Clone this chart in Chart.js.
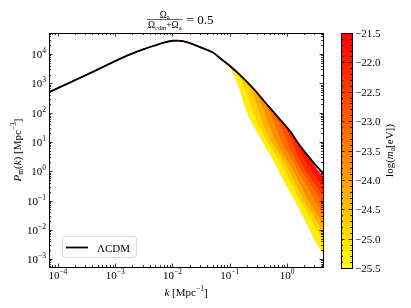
<!DOCTYPE html>
<html><head><meta charset="utf-8">
<script src="https://cdn.jsdelivr.net/npm/chart.js@4.4.1/dist/chart.umd.min.js"></script>
<style>html,body{margin:0;padding:0;background:#fff}</style>
</head><body>
<canvas id="pk" width="411" height="308"></canvas>
<script>
// log10 k [Mpc^-1] and log10 P(k)
var logK = [-4.15,-3.9,-3.6,-3.3,-3.0,-2.75,-2.5,-2.3,-2.15,-2.0,-1.9,-1.8,-1.65,-1.5,-1.3,
            -1.15,-1.0,-0.85,-0.7,-0.55,-0.4,-0.25,-0.1,0.05,0.2,0.35,0.5,0.63];
var lcdmLogP = [2.70,2.93,3.20,3.48,3.76,3.98,4.17,4.30,4.39,4.455,4.46,4.43,4.34,4.22,4.06,
                3.83,3.60,3.34,3.05,2.74,2.39,2.05,1.71,1.37,0.94,0.56,0.20,-0.07];
// axion models agree with LCDM up to index 15 (k ~ 0.07)
var tailStart = 15;
var axionLogMass = [-25.5,-25.0,-24.5,-24.0,-23.5,-23.0,-22.5,-22.0,-21.5];
var axionTailLogP = [
  [3.83,3.56,2.93,2.02,1.43,0.92,0.42,-0.17,-0.70,-1.24,-1.82,-2.41,-2.80],
  [3.83,3.58,3.28,2.68,1.82,1.21,0.73,0.25,-0.32,-0.92,-1.40,-1.93,-2.41],
  [3.83,3.58,3.32,3.02,2.40,1.52,0.95,0.48,0.00,-0.64,-1.18,-1.63,-2.07],
  [3.83,3.58,3.32,3.05,2.71,2.07,1.25,0.69,0.22,-0.33,-0.91,-1.41,-1.77],
  [3.83,3.58,3.32,3.05,2.74,2.36,1.78,1.02,0.50,-0.04,-0.53,-1.05,-1.45],
  [3.83,3.58,3.32,3.05,2.74,2.39,2.03,1.48,0.78,0.19,-0.28,-0.73,-1.14],
  [3.83,3.58,3.32,3.05,2.74,2.39,2.05,1.69,1.18,0.45,-0.06,-0.49,-0.84],
  [3.83,3.58,3.32,3.05,2.74,2.39,2.05,1.71,1.36,0.81,0.24,-0.21,-0.53],
  [3.83,3.58,3.32,3.05,2.74,2.39,2.05,1.71,1.37,0.94,0.52,0.10,-0.20]
];
var xTickPowers = [-4,-3,-2,-1,0];
var yTickPowers = [-3,-2,-1,0,1,2,3,4];
var cbarTicks = [-21.5,-22.0,-22.5,-23.0,-23.5,-24.0,-24.5,-25.0,-25.5];
var cbarMin = -25.5, cbarMax = -21.5;

var SERIF = '"Liberation Serif", "DejaVu Serif", serif';

function cmap(m) {
  var t = (m - cbarMin) / (cbarMax - cbarMin);
  return 'rgb(255,' + Math.round(255 * (1 - t)) + ',0)';
}
function toPoints(logs) {
  return logs.map(function (v, i) { return {x: Math.pow(10, logK[i]), y: Math.pow(10, v)}; });
}

var datasets = [];
axionTailLogP.forEach(function (tail, j) {
  var m = axionLogMass[j];
  datasets.push({
    data: toPoints(lcdmLogP.slice(0, tailStart).concat(tail)),
    borderColor: cmap(m),
    borderWidth: 1,
    backgroundColor: j > 0 ? cmap(m - 0.25) : 'transparent',
    fill: j > 0 ? '-1' : false,
    order: 20 - j
  });
});
datasets.push({
  label: 'ΛCDM',
  data: toPoints(lcdmLogP),
  borderColor: '#000',
  borderWidth: 1.8,
  fill: false,
  order: 0
});

function richWidth(ctx, parts) {
  var w = 0;
  parts.forEach(function (p) { ctx.font = p.f; w += ctx.measureText(p.t).width; });
  return w;
}
function drawRich(ctx, parts, x, y) {
  parts.forEach(function (p) {
    ctx.font = p.f;
    ctx.fillText(p.t, x, y + (p.dy || 0));
    x += ctx.measureText(p.t).width;
  });
}
function powParts(n) {
  return [{t: '10', f: '11px ' + SERIF},
          {t: n < 0 ? '\u2212' + (-n) : '' + n, f: '7.5px ' + SERIF, dy: -5}];
}

var decor = {
  id: 'decor',
  afterDraw: function (chart) {
    var ctx = chart.ctx, a = chart.chartArea;
    var xs = chart.scales.x, ys = chart.scales.y;
    ctx.save();
    ctx.fillStyle = '#000';
    ctx.strokeStyle = '#000';
    ctx.textBaseline = 'alphabetic';

    // frame
    ctx.lineWidth = 1;
    ctx.strokeRect(a.left + 0.5, a.top + 0.5, a.right - a.left, a.bottom - a.top);

    // ticks, inward on all sides
    ctx.lineWidth = 0.8;
    function tickX(px, len) {
      ctx.beginPath();
      ctx.moveTo(px, a.bottom); ctx.lineTo(px, a.bottom - len);
      ctx.moveTo(px, a.top); ctx.lineTo(px, a.top + len);
      ctx.stroke();
    }
    function tickY(py, len) {
      ctx.beginPath();
      ctx.moveTo(a.left, py); ctx.lineTo(a.left + len, py);
      ctx.moveTo(a.right, py); ctx.lineTo(a.right - len, py);
      ctx.stroke();
    }
    for (var n = -5; n <= 1; n++) {
      for (var m = 1; m <= 9; m++) {
        var v = m * Math.pow(10, n);
        if (v >= xs.min && v <= xs.max) tickX(Math.round(xs.getPixelForValue(v)) + 0.5, m === 1 ? 3.5 : 2);
      }
    }
    for (n = -4; n <= 5; n++) {
      for (m = 1; m <= 9; m++) {
        v = m * Math.pow(10, n);
        if (v >= ys.min && v <= ys.max) tickY(Math.round(ys.getPixelForValue(v)) + 0.5, m === 1 ? 3.5 : 2);
      }
    }

    // tick labels
    xTickPowers.forEach(function (p) {
      var parts = powParts(p), w = richWidth(ctx, parts);
      drawRich(ctx, parts, xs.getPixelForValue(Math.pow(10, p)) - w / 2, a.bottom + 12);
    });
    yTickPowers.forEach(function (p) {
      var parts = powParts(p), w = richWidth(ctx, parts);
      drawRich(ctx, parts, a.left - 3 - w, ys.getPixelForValue(Math.pow(10, p)) + 4);
    });

    // axis labels
    var xl = [{t: 'k', f: 'italic 11px ' + SERIF}, {t: ' [Mpc', f: '11px ' + SERIF},
              {t: '\u22121', f: '7.5px ' + SERIF, dy: -5}, {t: ']', f: '11px ' + SERIF}];
    drawRich(ctx, xl, (a.left + a.right) / 2 - richWidth(ctx, xl) / 2, 296);

    var yl = [{t: 'P', f: 'italic 11px ' + SERIF}, {t: 'm', f: '7.5px ' + SERIF, dy: 2},
              {t: '(', f: '11px ' + SERIF}, {t: 'k', f: 'italic 11px ' + SERIF},
              {t: ') [Mpc', f: '11px ' + SERIF}, {t: '\u22123', f: '7.5px ' + SERIF, dy: -5},
              {t: ']', f: '11px ' + SERIF}];
    ctx.save();
    ctx.translate(21, (a.top + a.bottom) / 2);
    ctx.rotate(-Math.PI / 2);
    drawRich(ctx, yl, -richWidth(ctx, yl) / 2, 0);
    ctx.restore();

    // title: fraction = 0.5
    var num = [{t: '\u03A9', f: '9.5px ' + SERIF}, {t: 'a', f: '6.5px ' + SERIF, dy: 1.5}];
    var den = [{t: '\u03A9', f: '9.5px ' + SERIF}, {t: 'cdm', f: '6.5px ' + SERIF, dy: 1.5},
               {t: '+\u03A9', f: '9.5px ' + SERIF}, {t: 'a', f: '6.5px ' + SERIF, dy: 1.5}];
    var dw = richWidth(ctx, den), nw = richWidth(ctx, num);
    var fx = 148, fy = 19.5;
    drawRich(ctx, num, fx + dw / 2 - nw / 2, fy - 2);
    drawRich(ctx, den, fx, fy + 8.5);
    ctx.lineWidth = 0.6;
    ctx.beginPath(); ctx.moveTo(fx - 1, fy); ctx.lineTo(fx + dw + 1, fy); ctx.stroke();
    ctx.font = '13px ' + SERIF;
    ctx.fillText('= 0.5', fx + dw + 5, fy + 4.5);

    // legend
    var lx = 62.5, ly = 236.5, lw = 74, lh = 21, r = 2.5;
    ctx.beginPath();
    ctx.moveTo(lx + r, ly); ctx.lineTo(lx + lw - r, ly); ctx.arcTo(lx + lw, ly, lx + lw, ly + r, r);
    ctx.lineTo(lx + lw, ly + lh - r); ctx.arcTo(lx + lw, ly + lh, lx + lw - r, ly + lh, r);
    ctx.lineTo(lx + r, ly + lh); ctx.arcTo(lx, ly + lh, lx, ly + lh - r, r);
    ctx.lineTo(lx, ly + r); ctx.arcTo(lx, ly, lx + r, ly, r);
    ctx.closePath();
    ctx.fillStyle = 'rgba(255,255,255,0.85)'; ctx.fill();
    ctx.strokeStyle = '#d0d0d0'; ctx.lineWidth = 0.8; ctx.stroke();
    ctx.strokeStyle = '#000'; ctx.lineWidth = 1.8;
    ctx.beginPath(); ctx.moveTo(66, 247.5); ctx.lineTo(88, 247.5); ctx.stroke();
    ctx.fillStyle = '#000';
    ctx.font = '11px ' + SERIF;
    ctx.fillText(datasets[datasets.length - 1].label, 97, 251.5);

    // colorbar
    var cl = 341, cr = 352, ct = a.top, cb = 268;
    var g = ctx.createLinearGradient(0, cb, 0, ct);
    g.addColorStop(0, cmap(cbarMin));
    g.addColorStop(1, cmap(cbarMax));
    ctx.fillStyle = g;
    ctx.fillRect(cl, ct, cr - cl, cb - ct);
    ctx.strokeStyle = '#000'; ctx.lineWidth = 1;
    ctx.strokeRect(cl + 0.5, ct + 0.5, cr - cl, cb - ct);
    function cbY(val) { return cb - (val - cbarMin) / (cbarMax - cbarMin) * (cb - ct); }
    ctx.lineWidth = 0.8;
    for (var i = 0; i <= 40; i++) {
      var val = cbarMin + i * 0.1;
      var py = Math.round(cbY(val)) + 0.5, len = (i % 5 === 0) ? 3.5 : 2;
      ctx.beginPath();
      ctx.moveTo(cl, py); ctx.lineTo(cl + len, py);
      ctx.moveTo(cr, py); ctx.lineTo(cr - len, py);
      ctx.stroke();
    }
    ctx.fillStyle = '#000';
    ctx.font = '11px ' + SERIF;
    cbarTicks.forEach(function (t) {
      ctx.fillText('\u2212' + (-t).toFixed(1), cr + 3, cbY(t) + 4);
    });
    var cbl = [{t: 'log', f: '11px ' + SERIF}, {t: '(', f: '11px ' + SERIF},
               {t: 'm', f: 'italic 11px ' + SERIF}, {t: 'a', f: '7.5px ' + SERIF, dy: 2},
               {t: '[eV])', f: '11px ' + SERIF}];
    ctx.save();
    ctx.translate(393, (ct + cb) / 2);
    ctx.rotate(-Math.PI / 2);
    drawRich(ctx, cbl, -richWidth(ctx, cbl) / 2, 0);
    ctx.restore();

    ctx.restore();
  }
};

new Chart(document.getElementById('pk'), {
  type: 'line',
  data: {datasets: datasets},
  options: {
    responsive: false,
    animation: false,
    devicePixelRatio: 1,
    layout: {padding: {left: 49, right: 88, top: 33, bottom: 41}},
    elements: {point: {radius: 0}, line: {cubicInterpolationMode: 'monotone'}},
    scales: {
      x: {type: 'logarithmic', min: 7.18e-5, max: 4.23,
          ticks: {display: false}, grid: {display: false}, border: {display: false},
          afterFit: function (s) { s.height = 0; }},
      y: {type: 'logarithmic', min: 5.37e-4, max: 5.25e4,
          ticks: {display: false}, grid: {display: false}, border: {display: false},
          afterFit: function (s) { s.width = 0; }}
    },
    plugins: {legend: {display: false}, tooltip: {enabled: false}}
  },
  plugins: [decor]
});
</script>
</body></html>
